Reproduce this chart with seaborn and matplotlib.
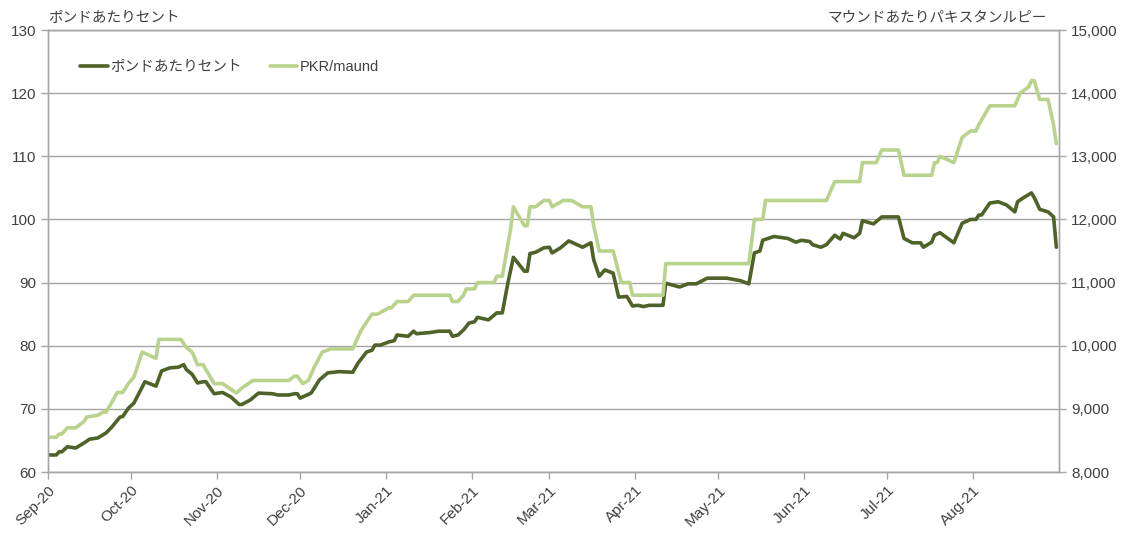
import pandas as pd
import matplotlib
matplotlib.use("Agg")
import matplotlib.pyplot as plt
import matplotlib.dates as mdates
from matplotlib.ticker import FuncFormatter
import seaborn as sns

# US cents per pound (left axis)
cents_dates = [
    "2020-09-01", "2020-09-04", "2020-09-05", "2020-09-06", "2020-09-08", "2020-09-11",
    "2020-09-14", "2020-09-16", "2020-09-19", "2020-09-22", "2020-09-24", "2020-09-27",
    "2020-09-28", "2020-09-30", "2020-10-02", "2020-10-06", "2020-10-10", "2020-10-12",
    "2020-10-15", "2020-10-18", "2020-10-20", "2020-10-21", "2020-10-23", "2020-10-25",
    "2020-10-27", "2020-10-28", "2020-10-31", "2020-11-03", "2020-11-06", "2020-11-09",
    "2020-11-10", "2020-11-13", "2020-11-16", "2020-11-21", "2020-11-23", "2020-11-27",
    "2020-11-29", "2020-11-30", "2020-12-01", "2020-12-05", "2020-12-08", "2020-12-11",
    "2020-12-15", "2020-12-20", "2020-12-22", "2020-12-25", "2020-12-27", "2020-12-28",
    "2020-12-30", "2021-01-02", "2021-01-04", "2021-01-05", "2021-01-09", "2021-01-11",
    "2021-01-12", "2021-01-17", "2021-01-20", "2021-01-24", "2021-01-25", "2021-01-27",
    "2021-01-29", "2021-01-31", "2021-02-02", "2021-02-03", "2021-02-07", "2021-02-10",
    "2021-02-12", "2021-02-14", "2021-02-16", "2021-02-20", "2021-02-21", "2021-02-22",
    "2021-02-24", "2021-02-27", "2021-03-01", "2021-03-02", "2021-03-05", "2021-03-08",
    "2021-03-13", "2021-03-16", "2021-03-17", "2021-03-19", "2021-03-21", "2021-03-24",
    "2021-03-26", "2021-03-29", "2021-03-31", "2021-04-02", "2021-04-04", "2021-04-06",
    "2021-04-11", "2021-04-12", "2021-04-17", "2021-04-20", "2021-04-23", "2021-04-27",
    "2021-05-04", "2021-05-09", "2021-05-12", "2021-05-14", "2021-05-16", "2021-05-17",
    "2021-05-21", "2021-05-26", "2021-05-29", "2021-05-31", "2021-06-03", "2021-06-04",
    "2021-06-07", "2021-06-09", "2021-06-12", "2021-06-14", "2021-06-15", "2021-06-19",
    "2021-06-21", "2021-06-22", "2021-06-26", "2021-06-29", "2021-07-05", "2021-07-07",
    "2021-07-10", "2021-07-13", "2021-07-14", "2021-07-17", "2021-07-18", "2021-07-20",
    "2021-07-25", "2021-07-28", "2021-07-31", "2021-08-02", "2021-08-03", "2021-08-04",
    "2021-08-07", "2021-08-10", "2021-08-13", "2021-08-16", "2021-08-17", "2021-08-19",
    "2021-08-22", "2021-08-23", "2021-08-25", "2021-08-28", "2021-08-30", "2021-08-31",
]
cents = [
    62.7, 62.7, 63.2, 63.2, 64.0, 63.8,
    64.6, 65.2, 65.4, 66.2, 67.1, 68.7,
    68.8, 70.1, 70.9, 74.3, 73.6, 76.0,
    76.5, 76.6, 77.0, 76.2, 75.5, 74.1,
    74.3, 74.3, 72.4, 72.6, 71.9, 70.7,
    70.7, 71.4, 72.5, 72.4, 72.2, 72.2,
    72.4, 72.4, 71.7, 72.5, 74.6, 75.7,
    75.9, 75.8, 77.3, 79.0, 79.3, 80.1,
    80.1, 80.6, 80.8, 81.7, 81.5, 82.3,
    81.9, 82.1, 82.3, 82.3, 81.5, 81.7,
    82.5, 83.6, 83.8, 84.5, 84.1, 85.2,
    85.2, 89.9, 94.0, 91.8, 91.8, 94.6,
    94.8, 95.5, 95.6, 94.7, 95.5, 96.6,
    95.6, 96.3, 93.6, 91.0, 92.0, 91.5,
    87.7, 87.8, 86.3, 86.4, 86.2, 86.4,
    86.4, 89.9, 89.3, 89.8, 89.8, 90.7,
    90.7, 90.3, 89.8, 94.7, 95.0, 96.7,
    97.3, 97.0, 96.4, 96.7, 96.5, 96.0,
    95.6, 96.0, 97.5, 96.9, 97.8, 97.1,
    97.8, 99.8, 99.3, 100.4, 100.4, 97.0,
    96.3, 96.3, 95.6, 96.4, 97.5, 97.9,
    96.3, 99.4, 100.0, 100.0, 100.7, 100.7,
    102.6, 102.8, 102.3, 101.2, 102.8, 103.4,
    104.2, 103.5, 101.6, 101.2, 100.4, 95.6,
]

# Pakistani rupees per maund (right axis)
pkr_dates = [
    "2020-09-01", "2020-09-04", "2020-09-05", "2020-09-06", "2020-09-08", "2020-09-11",
    "2020-09-14", "2020-09-15", "2020-09-19", "2020-09-21", "2020-09-22", "2020-09-24",
    "2020-09-26", "2020-09-28", "2020-09-30", "2020-10-02", "2020-10-05", "2020-10-10",
    "2020-10-11", "2020-10-19", "2020-10-21", "2020-10-23", "2020-10-25", "2020-10-27",
    "2020-10-31", "2020-11-03", "2020-11-08", "2020-11-10", "2020-11-14", "2020-11-27",
    "2020-11-29", "2020-11-30", "2020-12-02", "2020-12-04", "2020-12-06", "2020-12-09",
    "2020-12-12", "2020-12-20", "2020-12-23", "2020-12-26", "2020-12-27", "2020-12-29",
    "2021-01-02", "2021-01-03", "2021-01-05", "2021-01-09", "2021-01-11", "2021-01-24",
    "2021-01-25", "2021-01-27", "2021-01-29", "2021-01-30", "2021-02-02", "2021-02-03",
    "2021-02-09", "2021-02-10", "2021-02-12", "2021-02-15", "2021-02-16", "2021-02-20",
    "2021-02-21", "2021-02-22", "2021-02-24", "2021-02-27", "2021-03-01", "2021-03-02",
    "2021-03-06", "2021-03-09", "2021-03-13", "2021-03-16", "2021-03-17", "2021-03-19",
    "2021-03-24", "2021-03-27", "2021-03-30", "2021-03-31", "2021-04-11", "2021-04-12",
    "2021-05-12", "2021-05-14", "2021-05-17", "2021-05-18", "2021-06-09", "2021-06-12",
    "2021-06-21", "2021-06-22", "2021-06-27", "2021-06-29", "2021-07-05", "2021-07-07",
    "2021-07-17", "2021-07-18", "2021-07-19", "2021-07-20", "2021-07-25", "2021-07-28",
    "2021-07-31", "2021-08-02", "2021-08-03", "2021-08-07", "2021-08-16", "2021-08-18",
    "2021-08-21", "2021-08-22", "2021-08-23", "2021-08-25", "2021-08-28", "2021-08-30",
    "2021-08-31",
]
pkr = [
    8550, 8550, 8600, 8600, 8700, 8700,
    8800, 8870, 8900, 8950, 8950, 9100,
    9260, 9260, 9400, 9500, 9900, 9800,
    10100, 10100, 9970, 9900, 9700, 9700,
    9400, 9400, 9250, 9330, 9450, 9450,
    9520, 9520, 9400, 9450, 9650, 9900,
    9950, 9950, 10240, 10440, 10500, 10500,
    10600, 10600, 10700, 10700, 10800, 10800,
    10700, 10700, 10800, 10900, 10900, 11000,
    11000, 11100, 11100, 11850, 12200, 11900,
    11900, 12200, 12200, 12300, 12300, 12200,
    12300, 12300, 12200, 12200, 11900, 11500,
    11500, 11000, 11000, 10800, 10800, 11300,
    11300, 12000, 12000, 12300, 12300, 12600,
    12600, 12900, 12900, 13100, 13100, 12700,
    12700, 12900, 12900, 13000, 12900, 13300,
    13400, 13400, 13500, 13800, 13800, 14000,
    14100, 14200, 14200, 13900, 13900, 13500,
    13200,
]

label_cents = "ポンドあたりセント"
label_pkr = "PKR/maund"
title_left = "ポンドあたりセント"
title_right = "マウンドあたりパキスタンルピー"
month_ticks = pd.date_range("2020-09-01", "2021-08-01", freq="MS")

df_c = pd.DataFrame({"date": pd.to_datetime(cents_dates), "value": cents})
df_p = pd.DataFrame({"date": pd.to_datetime(pkr_dates), "value": pkr})

sns.set_style("white")
plt.rcParams["font.family"] = ["Liberation Sans", "Noto Sans CJK JP", "DejaVu Sans"]

dark = "#4f6228"
light = "#b9d38c"
grey = "#a6a6a6"
txt = "#404040"

fig = plt.figure(figsize=(11.26, 5.33), dpi=100)
ax = fig.add_axes([0.0426, 0.1144, 0.898, 0.8293])
ax2 = ax.twinx()

sns.lineplot(data=df_c, x="date", y="value", ax=ax, color=dark, linewidth=2.6, label=label_cents)
sns.lineplot(data=df_p, x="date", y="value", ax=ax2, color=light, linewidth=2.6, label=label_pkr)

ax.set_xlim(pd.Timestamp("2020-09-01"), pd.Timestamp("2021-09-01"))
ax.set_ylim(60, 130)
ax2.set_ylim(8000, 15000)
ax.set_yticks(range(60, 131, 10))
ax2.set_yticks(range(8000, 15001, 1000))
ax2.yaxis.set_major_formatter(FuncFormatter(lambda v, p: f"{int(v):,}"))

ax.set_xticks(month_ticks)
ax.xaxis.set_major_formatter(mdates.DateFormatter("%b-%y"))
plt.setp(ax.get_xticklabels(), rotation=45, ha="right", rotation_mode="anchor")

ax.set_xlabel("")
ax.set_ylabel("")
ax2.set_ylabel("")

ax.yaxis.grid(True, color=grey, linewidth=1)
ax.xaxis.grid(False)
ax2.grid(False)

for a in (ax, ax2):
    for s in a.spines.values():
        s.set_color(grey)
        s.set_linewidth(1)
    a.tick_params(colors=grey, labelcolor=txt, labelsize=11, length=5, width=1)
ax.tick_params(axis="both", direction="out")
ax2.tick_params(axis="y", direction="out", right=True)
ax.tick_params(axis="y", left=True)
ax.tick_params(axis="x", bottom=True, pad=3)

ax.text(0.0, 1.012, title_left, transform=ax.transAxes, fontsize=10.5, color=txt,
        ha="left", va="bottom")
ax.text(0.988, 1.012, title_right, transform=ax.transAxes, fontsize=10.5, color=txt,
        ha="right", va="bottom")

h1, l1 = ax.get_legend_handles_labels()
h2, l2 = ax2.get_legend_handles_labels()
ax.get_legend().remove()
ax2.legend(h1 + h2, l1 + l2, loc="upper left", bbox_to_anchor=(0.019, 0.962), ncol=2,
           frameon=False, fontsize=10.5, handlelength=1.9, handletextpad=0.15,
           columnspacing=1.9, labelcolor=txt)

fig.savefig("out.png", dpi=100)
